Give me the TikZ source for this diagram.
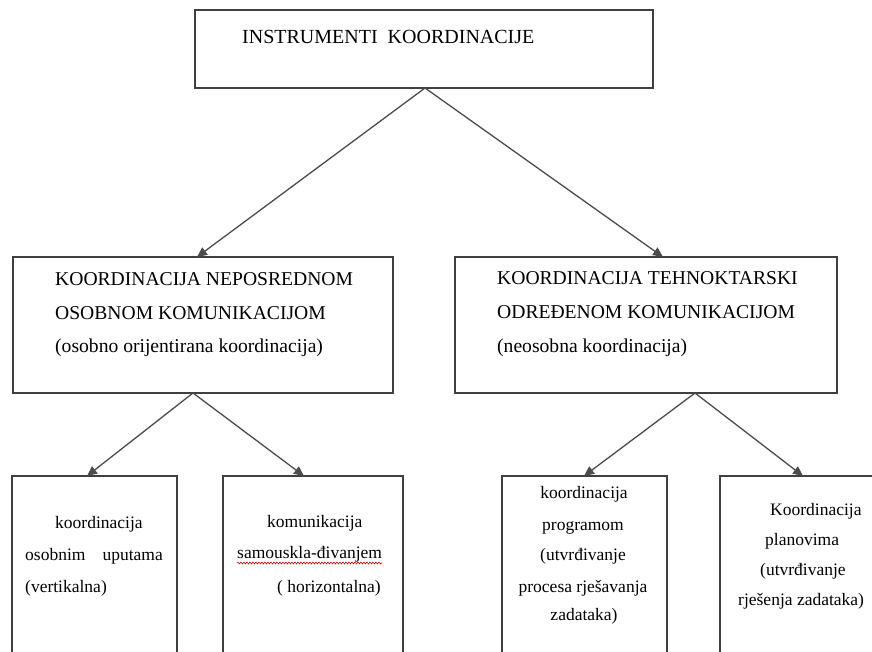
\documentclass[tikz,border=0pt]{standalone}
\usepackage{fontspec}
\setmainfont{Liberation Serif}
\usetikzlibrary{arrows.meta,decorations.pathmorphing}
\begin{document}
\begin{tikzpicture}[x=1pt,y=-1pt,
  box/.style={draw=black!75,line width=1.4pt,fill=none},
  conn/.style={draw=black!70,line width=1.3pt,-{Triangle[length=10pt,width=9pt]}},
  big/.style={inner sep=0pt,anchor=base west,font=\fontsize{19.6}{22}\selectfont},
  small/.style={inner sep=0pt,anchor=base west,font=\fontsize{17.5}{20}\selectfont},
  smallc/.style={inner sep=0pt,anchor=base,font=\fontsize{17.5}{20}\selectfont}]
\clip (0,0) rectangle (872,652);
\fill[white] (0,0) rectangle (872,652);
% boxes
\draw[box] (195,10) rectangle (653,88);
\draw[box] (13,257) rectangle (393,393);
\draw[box] (455,257) rectangle (837,393);
\draw[box] (12,476) rectangle (177,700);
\draw[box] (223,476) rectangle (403,700);
\draw[box] (502,476) rectangle (667,700);
\draw[box] (720,476) rectangle (900,700);
% connector points
\coordinate (ctop) at (425,88);
\coordinate (cml) at (197,257);
\coordinate (cmr) at (663,257);
\coordinate (cmlb) at (193,393);
\coordinate (cmrb) at (695,393);
\coordinate (cb1) at (87,476);
\coordinate (cb2) at (304,476);
\coordinate (cb3) at (584,476);
\coordinate (cb4) at (803,476);
\draw[conn] (ctop) -- (cml);
\draw[conn] (ctop) -- (cmr);
\draw[conn] (cmlb) -- (cb1);
\draw[conn] (cmlb) -- (cb2);
\draw[conn] (cmrb) -- (cb3);
\draw[conn] (cmrb) -- (cb4);
% top text
\node[big,font=\fontsize{20}{22}\selectfont] (t0) at (242,44) {INSTRUMENTI\ \ KOORDINACIJE};
% middle left
\node[big] (l1) at (55,285) {KOORDINACIJA NEPOSREDNOM};
\node[big] (l2) at (55,319) {OSOBNOM KOMUNIKACIJOM};
\node[big] (l3) at (55,352) {(osobno orijentirana koordinacija)};
% middle right
\node[big] (r1) at (497,284) {KOORDINACIJA TEHNOKTARSKI};
\node[big] (r2) at (497,318) {ODREĐENOM KOMUNIKACIJOM};
\node[big] (r3) at (497,352) {(neosobna koordinacija)};
% bottom 1
\node[small] (a1) at (55,528) {koordinacija};
\node[small] (a2) at (25,560) {osobnim};
\node[small,anchor=base east] (a3) at (163,560) {uputama};
\node[small] (a4) at (25,592) {(vertikalna)};
% bottom 2
\node[small] (b1) at (267,527) {komunikacija};
\node[small] (b2) at (237,558) {samouskla-đivanjem};
\node[small] (b3) at (277,592) {( horizontalna)};
\draw[red!85!black,line width=0.6pt,decorate,decoration={snake,amplitude=0.9pt,segment length=3pt}] (b2.base west) ++(0,5) -- ++(145,0);
% bottom 3
\node[smallc] (c1) at (584,498) {koordinacija};
\node[smallc] (c2) at (583,530) {programom};
\node[smallc] (c3) at (583,560) {(utvrđivanje};
\node[smallc] (c4) at (583,592) {procesa rješavanja};
\node[smallc] (c5) at (584,620) {zadataka)};
% bottom 4
\node[small] (d1) at (770,515) {Koordinacija};
\node[small] (d2) at (765,545) {planovima};
\node[small] (d3) at (760,575) {(utvrđivanje};
\node[small] (d4) at (738,605) {rješenja zadataka)};
\end{tikzpicture}
\end{document}
